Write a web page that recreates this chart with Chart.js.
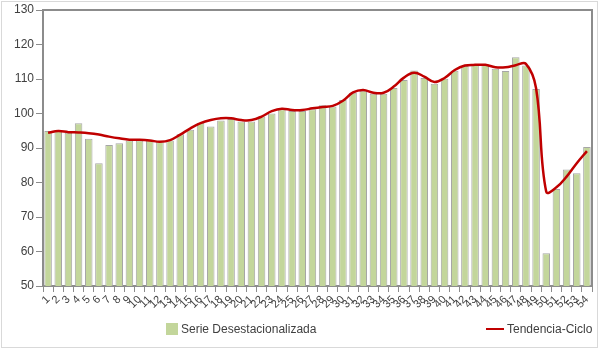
<!DOCTYPE html>
<html>
<head>
<meta charset="utf-8">
<script src="https://cdn.jsdelivr.net/npm/chart.js@4/dist/chart.umd.min.js"></script>
<style>
  html, body { margin: 0; padding: 0; background: #ffffff; }
  #wrap { position: relative; width: 600px; height: 349px; }
  #c { position: absolute; left: 0; top: 0; }
  #frame { position: absolute; left: 1px; top: 1px; width: 595px; height: 345px; border: 1px solid #d9d9d9; pointer-events: none; }
  .leg { position: absolute; font-family: "Liberation Sans", Arial, sans-serif; font-size: 12px; color: #404040; white-space: nowrap; line-height: 14px; }
  .sw { position: absolute; }
</style>
</head>
<body>
<div id="wrap">
  <canvas id="c" width="600" height="349"></canvas>
  <div id="frame"></div>
  <div class="sw" style="left:166px;top:323px;width:12px;height:12px;background:#c3d69b;"></div>
  <div class="leg" style="left:181px;top:322px;">Serie Desestacionalizada</div>
  <div class="sw" style="left:486px;top:328px;width:18px;height:2px;background:#c00000;"></div>
  <div class="leg" style="left:507px;top:322px;">Tendencia-Ciclo</div>
</div>
<script>
const categories = ["1","2","3","4","5","6","7","8","9","10","11","12","13","14","15","16","17","18","19","20","21","22","23","24","25","26","27","28","29","30","31","32","33","34","35","36","37","38","39","40","41","42","43","44","45","46","47","48","49","50","51","52","53","54"];

const serieDesestacionalizada = [94.9,94.9,94.4,97.2,92.7,85.6,90.9,91.4,92.2,92.2,
  92.3,91.9,92.2,94.0,95.3,97.3,96.2,98.0,98.4,97.7,
  97.7,99.1,100.0,101.2,100.7,100.7,101.2,102.4,102.0,103.9,
  106.0,106.6,105.7,105.7,107.4,109.7,112.5,110.3,108.6,110.1,
  112.4,113.8,114.3,114.2,113.0,112.3,116.3,113.9,107.1,59.5,
  78.1,83.8,82.7,90.3];

const tendenciaCiclo = [94.4,94.9,94.6,94.5,94.3,93.9,93.3,92.8,92.4,92.4,
  92.2,91.8,92.3,93.9,95.7,97.2,98.1,98.6,98.6,98.1,
  98.1,99.1,100.7,101.4,101.0,101.0,101.5,101.9,102.2,103.7,
  106.1,106.8,106.0,106.0,107.8,110.4,111.8,110.7,109.1,110.3,
  112.6,113.9,114.1,114.1,113.4,113.4,114.0,114.4,107.3,77.3,
  78.6,81.7,85.6,89.1];

const yMin = 50, yMax = 130, yStep = 10;

const frame = {
  id: 'frame',
  afterDatasetsDraw(chart) {
    const a = chart.chartArea, ctx = chart.ctx;
    ctx.save();
    ctx.strokeStyle = '#8c8c8c';
    ctx.lineWidth = 2;
    ctx.beginPath();
    ctx.moveTo(a.left, a.top);
    ctx.lineTo(a.right, a.top);
    ctx.lineTo(a.right, a.bottom);
    ctx.stroke();
    ctx.restore();
  }
};

new Chart(document.getElementById('c'), {
  data: {
    labels: categories,
    datasets: [
      {
        type: 'line',
        label: 'Tendencia-Ciclo',
        data: tendenciaCiclo,
        borderColor: '#c00000',
        borderWidth: 2.5,
        pointRadius: 0,
        tension: 0.4,
        fill: false,
        order: 0
      },
      {
        type: 'bar',
        label: 'Serie Desestacionalizada',
        data: serieDesestacionalizada,
        backgroundColor: '#c3d69b',
        borderColor: '#a6a6a6',
        borderWidth: 1,
        categoryPercentage: 1.0,
        barPercentage: 0.74,
        order: 1
      }
    ]
  },
  options: {
    responsive: false,
    animation: false,
    layout: { padding: { left: 0, right: 8, top: 10, bottom: 33 } },
    plugins: { legend: { display: false }, tooltip: { enabled: false } },
    scales: {
      x: {
        type: 'category',
        offset: true,
        grid: { display: true, drawOnChartArea: false, drawTicks: true, tickLength: 6, color: '#8c8c8c', offset: true },
        border: { display: true, color: '#8c8c8c', width: 2 },
        ticks: {
          autoSkip: false, minRotation: 45, maxRotation: 45, padding: 1,
          color: '#404040',
          font: { family: '"Liberation Sans", Arial, sans-serif', size: 11 }
        },
        afterFit(scale) { scale.height = 30; }
      },
      y: {
        min: yMin, max: yMax,
        grid: { display: true, drawOnChartArea: false, drawTicks: true, tickLength: 7, color: '#8c8c8c' },
        border: { display: true, color: '#8c8c8c', width: 2 },
        ticks: {
          stepSize: yStep, padding: 2,
          color: '#404040',
          font: { family: '"Liberation Sans", Arial, sans-serif', size: 12 }
        },
        afterFit(scale) { scale.width = 43; }
      }
    }
  },
  plugins: [frame]
});
</script>
</body>
</html>
